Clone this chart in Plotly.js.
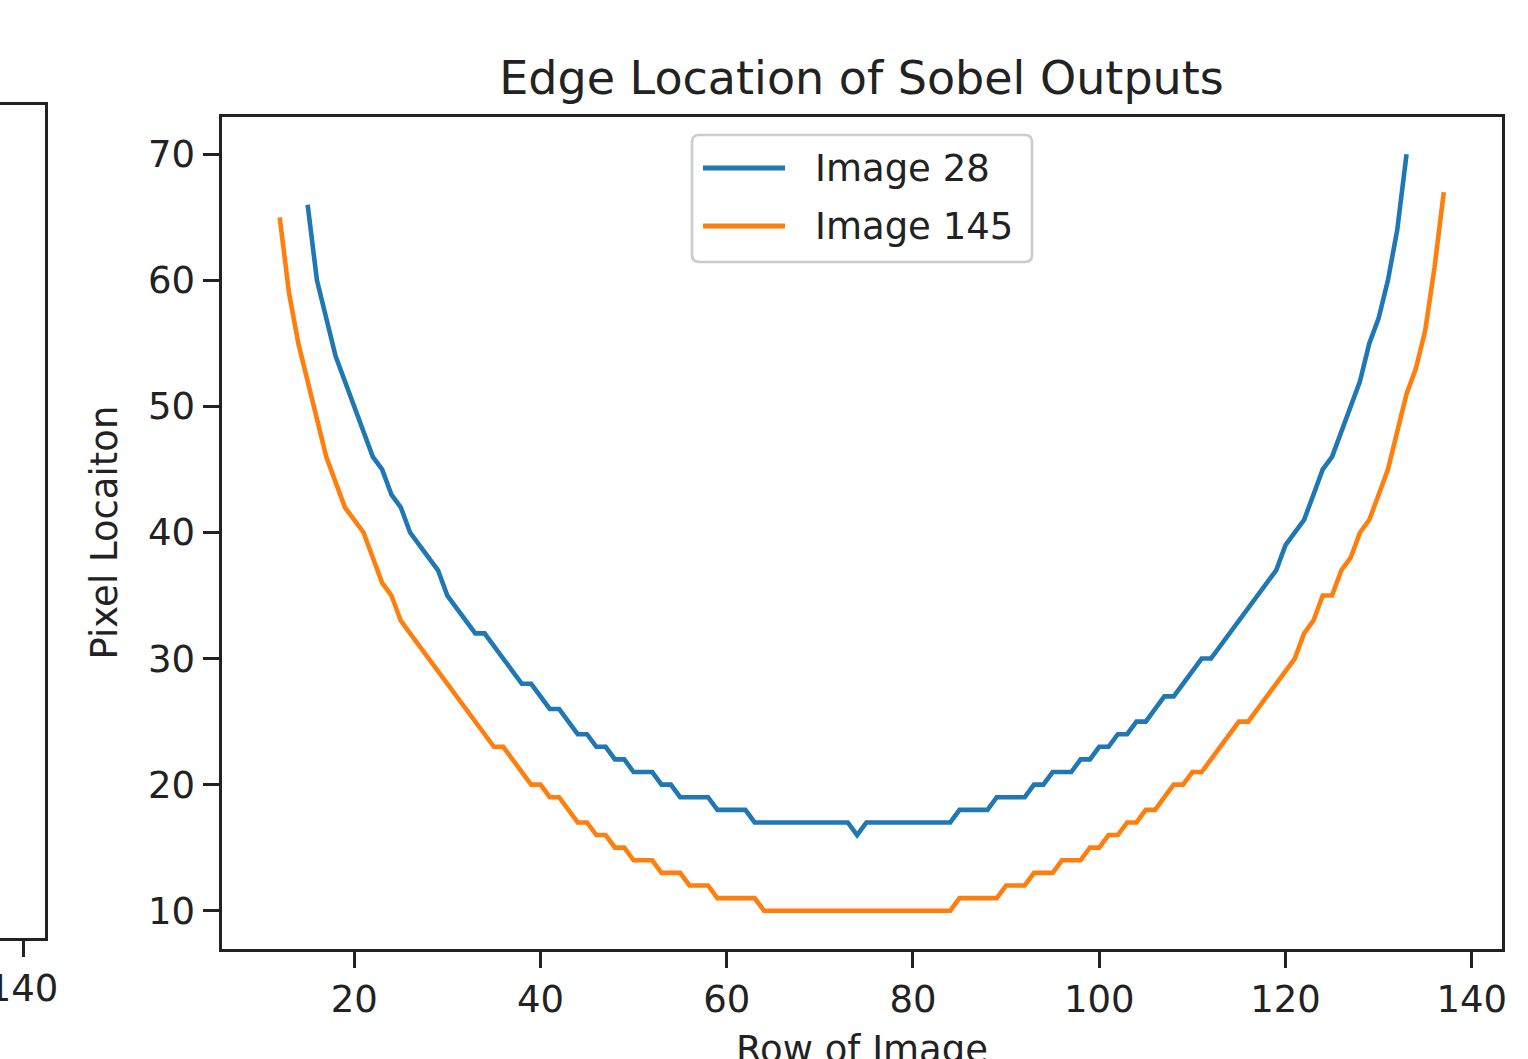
<!DOCTYPE html>
<html><head><meta charset="utf-8">
<script src="https://cdn.plot.ly/plotly-3.0.1.min.js"></script>
<style>html,body{margin:0;padding:0;background:#fff;overflow:hidden}#chart{width:1528px;height:1059px}</style>
</head><body><div id="chart"></div>
<script>
// ---- data ----
const rows28 = [15,16,17,18,19,20,21,22,23,24,
  25,26,27,28,29,30,31,32,33,34,
  35,36,37,38,39,40,41,42,43,44,
  45,46,47,48,49,50,51,52,53,54,
  55,56,57,58,59,60,61,62,63,64,
  65,66,67,68,69,70,71,72,73,74,
  75,76,77,78,79,80,81,82,83,84,
  85,86,87,88,89,90,91,92,93,94,
  95,96,97,98,99,100,101,102,103,104,
  105,106,107,108,109,110,111,112,113,114,
  115,116,117,118,119,120,121,122,123,124,
  125,126,127,128,129,130,131,132,133];
const edge28 = [66,60,57,54,52,50,48,46,45,43,
  42,40,39,38,37,35,34,33,32,32,
  31,30,29,28,28,27,26,26,25,24,
  24,23,23,22,22,21,21,21,20,20,
  19,19,19,19,18,18,18,18,17,17,
  17,17,17,17,17,17,17,17,17,16,
  17,17,17,17,17,17,17,17,17,17,
  18,18,18,18,19,19,19,19,20,20,
  21,21,21,22,22,23,23,24,24,25,
  25,26,27,27,28,29,30,30,31,32,
  33,34,35,36,37,39,40,41,43,45,
  46,48,50,52,55,57,60,64,70];
const rows145 = [12,13,14,15,16,17,18,19,20,21,
  22,23,24,25,26,27,28,29,30,31,
  32,33,34,35,36,37,38,39,40,41,
  42,43,44,45,46,47,48,49,50,51,
  52,53,54,55,56,57,58,59,60,61,
  62,63,64,65,66,67,68,69,70,71,
  72,73,74,75,76,77,78,79,80,81,
  82,83,84,85,86,87,88,89,90,91,
  92,93,94,95,96,97,98,99,100,101,
  102,103,104,105,106,107,108,109,110,111,
  112,113,114,115,116,117,118,119,120,121,
  122,123,124,125,126,127,128,129,130,131,
  132,133,134,135,136,137];
const edge145 = [65,59,55,52,49,46,44,42,41,40,
  38,36,35,33,32,31,30,29,28,27,
  26,25,24,23,23,22,21,20,20,19,
  19,18,17,17,16,16,15,15,14,14,
  14,13,13,13,12,12,12,11,11,11,
  11,11,10,10,10,10,10,10,10,10,
  10,10,10,10,10,10,10,10,10,10,
  10,10,10,11,11,11,11,11,12,12,
  12,13,13,13,14,14,14,15,15,16,
  16,17,17,18,18,19,20,20,21,21,
  22,23,24,25,25,26,27,28,29,30,
  32,33,35,35,37,38,40,41,43,45,
  48,51,53,56,61,67];
const seriesNames = ['Image 28', 'Image 145'];
const seriesColors = ['#1f77b4', '#ff7f0e'];
const xTickVals = [20, 40, 60, 80, 100, 120, 140];
const yTickVals = [10, 20, 30, 40, 50, 60, 70];
const leftPanelTickVals = [140];
const chartTitle = 'Edge Location of Sobel Outputs';
const xTitle = 'Row of Image';
const yTitle = 'Pixel Locaiton';

// ---- layout helpers (pixels -> paper) ----
const W = 1528, H = 1059;
const px = v => v / W;
const py = v => 1 - v / H;
const FONT = 'DejaVu Sans, Liberation Sans, sans-serif';
const INK = '#222222';

function roundRect(x0, y0, x1, y1, r) {
  const P = (x, y) => px(x) + ',' + py(y);
  return 'M' + P(x0 + r, y0) + ' L' + P(x1 - r, y0) + ' Q' + P(x1, y0) + ' ' + P(x1, y0 + r) +
    ' L' + P(x1, y1 - r) + ' Q' + P(x1, y1) + ' ' + P(x1 - r, y1) +
    ' L' + P(x0 + r, y1) + ' Q' + P(x0, y1) + ' ' + P(x0, y1 - r) +
    ' L' + P(x0, y0 + r) + ' Q' + P(x0, y0) + ' ' + P(x0 + r, y0) + ' Z';
}

const traces = [
  {x: rows28, y: edge28, name: seriesNames[0], type: 'scatter', mode: 'lines',
   line: {color: seriesColors[0], width: 4.6}, xaxis: 'x', yaxis: 'y'},
  {x: rows145, y: edge145, name: seriesNames[1], type: 'scatter', mode: 'lines',
   line: {color: seriesColors[1], width: 4.6}, xaxis: 'x', yaxis: 'y'},
  {x: [], y: [], type: 'scatter', mode: 'lines', xaxis: 'x2', yaxis: 'y2',
   showlegend: false, hoverinfo: 'skip'}
];

const axisCommon = {
  showgrid: false, zeroline: false, showline: true, linewidth: 3, linecolor: INK,
  ticks: 'outside', ticklen: 16, tickwidth: 3, tickcolor: INK,
  tickfont: {family: FONT, size: 37, color: INK}, automargin: false, fixedrange: true,
  ticklabeloverflow: 'allow'
};

// legend drawn with the library's shapes/annotations
const legendBox = {x0: 692, y0: 135, x1: 1032, y1: 262};
const legendRowsY = [168, 226];

const shapes = [
  {type: 'path', xref: 'paper', yref: 'paper', layer: 'above',
   path: roundRect(legendBox.x0, legendBox.y0, legendBox.x1, legendBox.y1, 7),
   fillcolor: 'rgba(255,255,255,0.8)', line: {color: '#cccccc', width: 2.7}}
];
const annotations = [];
seriesNames.forEach((name, i) => {
  shapes.push({type: 'line', xref: 'paper', yref: 'paper', layer: 'above',
    x0: px(703), x1: px(785), y0: py(legendRowsY[i]), y1: py(legendRowsY[i]),
    line: {color: seriesColors[i], width: 5}});
  annotations.push({xref: 'paper', yref: 'paper', x: px(813), y: py(legendRowsY[i]),
    xanchor: 'left', yanchor: 'middle', showarrow: false, text: name,
    font: {family: FONT, size: 37, color: INK}});
});
// x-axis title (partly below the page edge, as in the reference)
annotations.push({xref: 'paper', yref: 'paper', x: px(861.5), y: py(1026),
  xanchor: 'center', yanchor: 'top', showarrow: false, text: xTitle,
  font: {family: FONT, size: 37, color: INK}});

const layout = {
  width: W, height: H,
  margin: {l: 0, r: 0, t: 0, b: 0, pad: 0},
  paper_bgcolor: '#ffffff', plot_bgcolor: '#ffffff',
  showlegend: false,
  title: {text: chartTitle, font: {family: FONT, size: 46, color: INK},
    x: px(861.5), xanchor: 'center', xref: 'paper', y: py(78), yanchor: 'middle', yref: 'container'},
  xaxis: Object.assign({}, axisCommon, {
    domain: [px(221.5), px(1502)], range: [5.75, 143.25], anchor: 'y', mirror: true,
    tickmode: 'array', tickvals: xTickVals
  }),
  yaxis: Object.assign({}, axisCommon, {
    domain: [py(948.5), py(116.5)], range: [7, 73], anchor: 'x', mirror: true,
    tickmode: 'array', tickvals: yTickVals,
    title: {text: yTitle, font: {family: FONT, size: 37, color: INK}, standoff: 20}
  }),
  xaxis2: Object.assign({}, axisCommon, {
    domain: [0, px(45)], range: [136.6, 143.25], anchor: 'y2', mirror: true,
    tickmode: 'array', tickvals: leftPanelTickVals
  }),
  yaxis2: Object.assign({}, axisCommon, {
    domain: [py(938), py(105)], range: [0, 1], anchor: 'x2', side: 'right', mirror: false,
    ticks: '', showticklabels: false
  }),
  shapes: shapes,
  annotations: annotations
};

Plotly.newPlot('chart', traces, layout, {staticPlot: true, displayModeBar: false});
</script>
</body></html>
